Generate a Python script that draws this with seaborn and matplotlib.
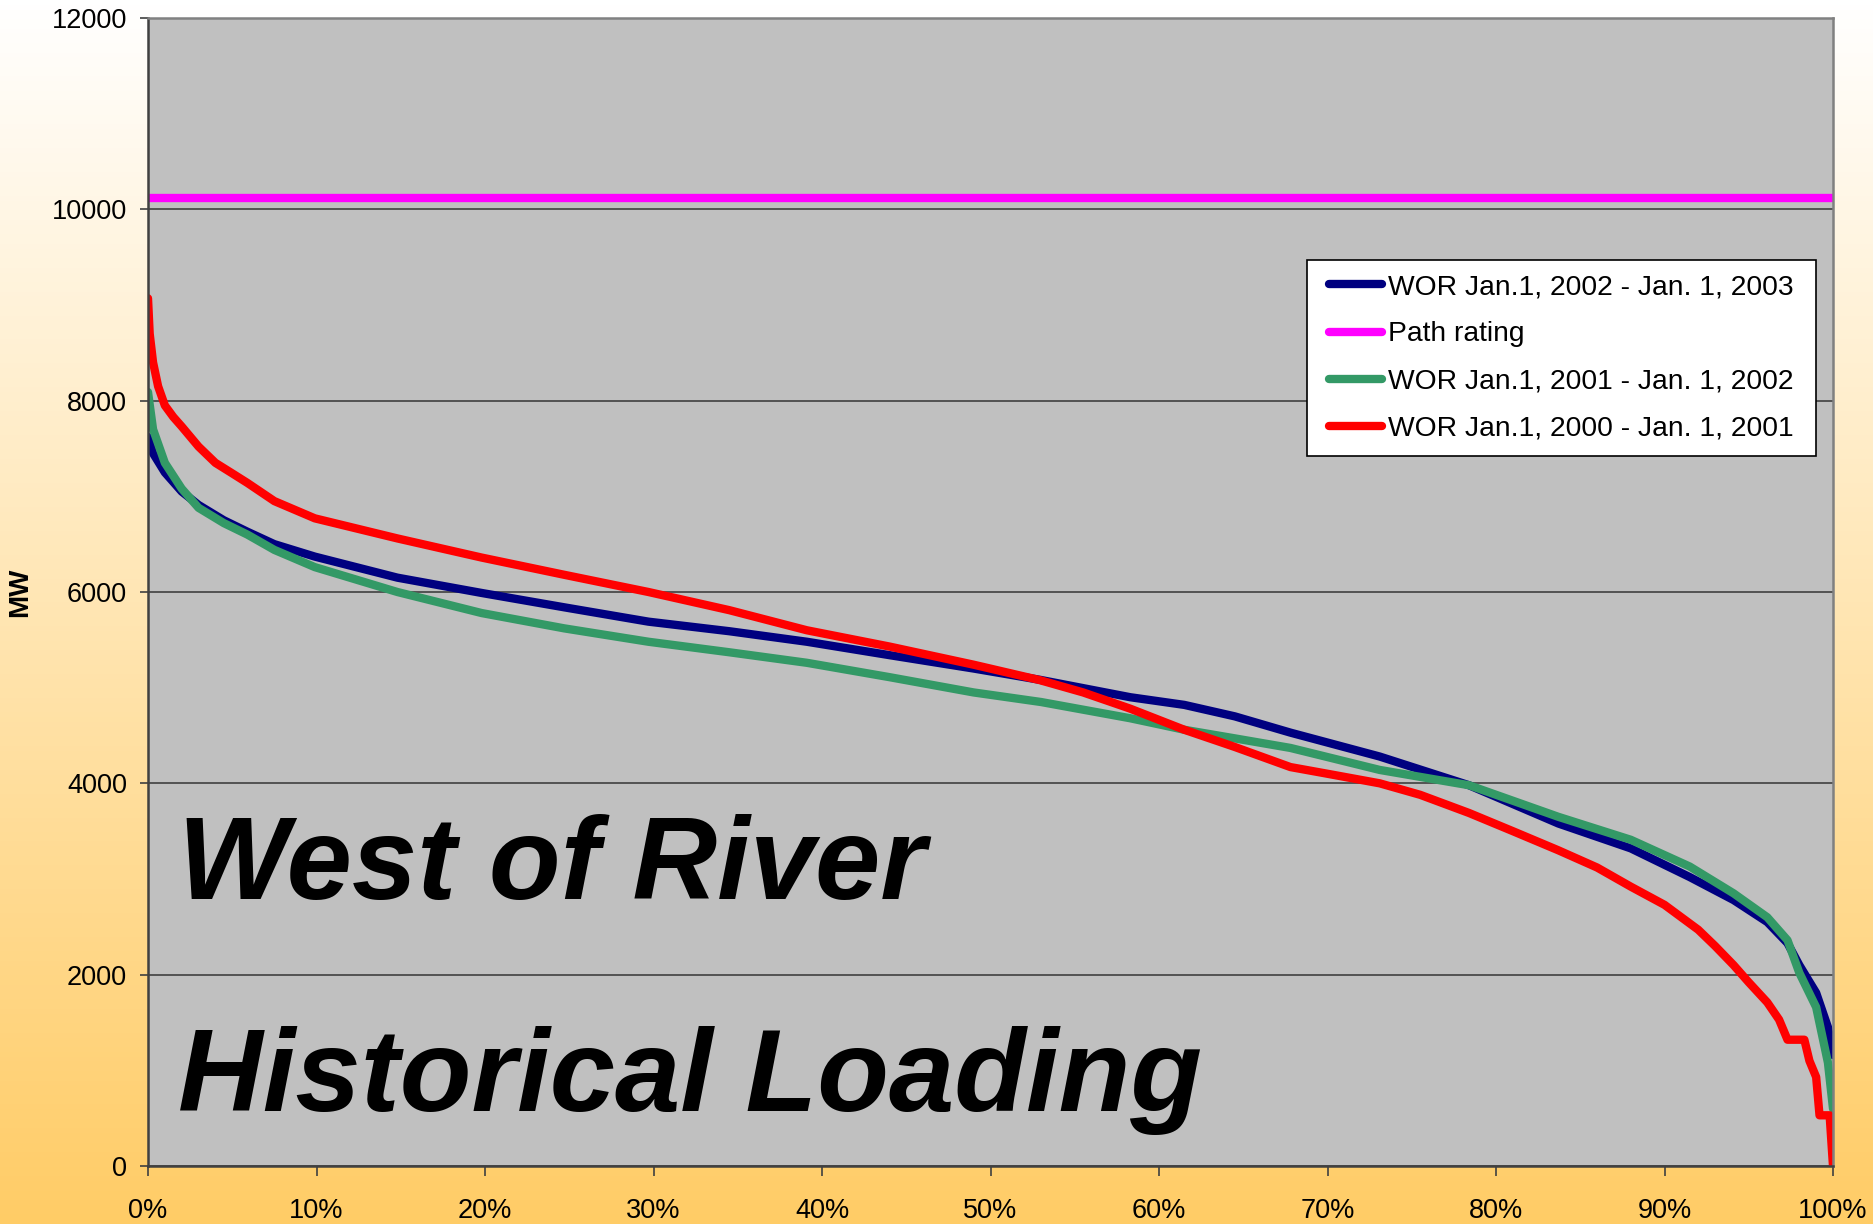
import numpy as np
import pandas as pd
import matplotlib
matplotlib.use("Agg")
import matplotlib.pyplot as plt
from matplotlib.ticker import PercentFormatter, MultipleLocator
import seaborn as sns

# Duration curves: percent of hours vs MW
pct_2002 = [0, 0.3, 1, 2, 3, 4.5, 5.9, 7.5, 9.9, 14.8, 19.8, 24.7, 29.7, 34.5, 39.1, 44, 49, 53,
            58.3, 61.5, 64.5, 67.8, 73.1, 78.4, 83.7, 88, 91.5, 94.1, 96.1, 97.3, 98, 99, 99.7, 100]
mw_2002 = [7620, 7450, 7250, 7050, 6910, 6750, 6630, 6500, 6370, 6150, 5990, 5840, 5690, 5590, 5480,
           5340, 5200, 5080, 4900, 4820, 4700, 4530, 4280, 3980, 3580, 3320, 3020, 2780, 2550, 2330,
           2100, 1810, 1450, 1160]

pct_2001 = [0, 0.3, 1, 2, 3, 4.5, 5.9, 7.5, 9.9, 14.8, 19.8, 24.7, 29.7, 34.5, 39.1, 44, 49, 53,
            58.3, 61.5, 64.5, 67.8, 73.1, 78.4, 83.7, 88, 91.5, 94.1, 96.1, 97.3, 98, 99, 99.7, 100]
mw_2001 = [8090, 7700, 7350, 7080, 6880, 6720, 6600, 6440, 6260, 6000, 5780, 5620, 5480, 5370, 5260,
           5110, 4950, 4850, 4680, 4560, 4470, 4370, 4140, 3980, 3650, 3410, 3130, 2850, 2600, 2360,
           2020, 1660, 1080, 600]

pct_2000 = [0, 0.1, 0.3, 0.6, 1, 1.5, 2, 3, 4, 5, 5.9, 7.5, 9.9, 12, 14.8, 19.8, 24.7, 29.7, 34.5,
            39.1, 44, 49, 52.9, 55.5, 58.3, 61.5, 64.5, 67.8, 70, 73.1, 75.5, 78.4, 81, 83.7, 86, 88,
            90, 92, 93, 94.1, 95, 96.1, 96.8, 97.3, 98.3, 98.6, 99.0, 99.2, 99.8, 100]
mw_2000 = [9070, 8700, 8400, 8150, 7950, 7830, 7730, 7520, 7350, 7240, 7140, 6950, 6770, 6680, 6560,
           6360, 6180, 6000, 5810, 5600, 5430, 5240, 5080, 4950, 4780, 4560, 4380, 4170, 4100, 4000,
           3880, 3690, 3500, 3300, 3120, 2920, 2730, 2470, 2300, 2100, 1920, 1710, 1530, 1320, 1320,
           1100, 930, 530, 530, 0]

pct_rating = [0, 100]
mw_rating = [10120, 10120]

labels = ["WOR Jan.1, 2002 - Jan. 1, 2003", "Path rating",
          "WOR Jan.1, 2001 - Jan. 1, 2002", "WOR Jan.1, 2000 - Jan. 1, 2001"]
colors = ["#000080", "#FF00FF", "#339966", "#FF0000"]

df = pd.concat([
    pd.DataFrame({"pct": pct_2002, "MW": mw_2002, "series": labels[0]}),
    pd.DataFrame({"pct": pct_rating, "MW": mw_rating, "series": labels[1]}),
    pd.DataFrame({"pct": pct_2001, "MW": mw_2001, "series": labels[2]}),
    pd.DataFrame({"pct": pct_2000, "MW": mw_2000, "series": labels[3]}),
], ignore_index=True)

sns.set_theme(style="white")
plt.rcParams["font.family"] = ["Liberation Sans", "DejaVu Sans"]
plt.rcParams["text.color"] = "black"
plt.rcParams["xtick.color"] = "black"
plt.rcParams["ytick.color"] = "black"
plt.rcParams["axes.labelcolor"] = "black"

W, H = 1873, 1224
fig = plt.figure(figsize=(W / 100, H / 100), dpi=100)

# gradient background, white at top to orange at bottom
bg = fig.add_axes([0, 0, 1, 1], zorder=-10)
top = np.array([1.0, 1.0, 1.0])
bot = np.array([1.0, 0.80, 0.40])
t = np.linspace(0, 1, 256)[:, None]
grad = top + (bot - top) * t
bg.imshow(grad[:, None, :].repeat(2, axis=1), aspect="auto", extent=[0, 1, 0, 1])
bg.set_axis_off()

ax = fig.add_axes([148 / W, 58 / H, 1685 / W, 1148 / H])
ax.set_facecolor("#C0C0C0")

sns.lineplot(data=df, x="pct", y="MW", hue="series", hue_order=labels, palette=colors,
             estimator=None, sort=False, linewidth=6, ax=ax)

ax.set_xlim(0, 100)
ax.set_ylim(0, 12000)
ax.xaxis.set_major_locator(MultipleLocator(10))
ax.xaxis.set_major_formatter(PercentFormatter(xmax=100, decimals=0))
ax.yaxis.set_major_locator(MultipleLocator(2000))
ax.grid(axis="y", color="#404040", linewidth=1.2)
ax.grid(axis="x", visible=False)
ax.set_axisbelow(True)
ax.set_xlabel("")
ax.set_ylabel("")

for s in ["left", "bottom"]:
    ax.spines[s].set_color("#404040")
    ax.spines[s].set_linewidth(1.8)
for s in ["top", "right"]:
    ax.spines[s].set_color("#808080")
    ax.spines[s].set_linewidth(1.8)

ax.tick_params(axis="x", direction="out", length=7, width=1.2, color="#404040",
               labelsize=19.5, pad=16, bottom=True)
ax.tick_params(axis="y", direction="out", length=6, width=1.2, color="#404040",
               labelsize=19.5, pad=9, left=True)

fig.text(20 / W, 1 - 592 / H, "MW", rotation=90, ha="center", va="center",
         fontsize=20, fontweight="bold")

ax.text(0.018, 0.2326, "West of River", transform=ax.transAxes, fontsize=84.5,
        fontweight="bold", fontstyle="italic", va="baseline", ha="left")
ax.text(0.018, 0.0479, "Historical Loading", transform=ax.transAxes, fontsize=84.5,
        fontweight="bold", fontstyle="italic", va="baseline", ha="left")

leg = ax.legend(loc="upper right", bbox_to_anchor=(0.985, 0.789), borderaxespad=0,
                fontsize=20.3, frameon=True, fancybox=False, framealpha=1,
                handlelength=1.9, handletextpad=0.2, labelspacing=0.75, borderpad=0.5,
                title=None)
frame = leg.get_frame()
frame.set_edgecolor("black")
frame.set_facecolor("white")
frame.set_linewidth(1.2)
# extra horizontal padding only
frame.set_boxstyle("square", pad=0.28)
frame.set_mutation_aspect(0.001)
for h in leg.get_lines():
    h.set_linewidth(6)
    h.set_solid_capstyle("round")

fig.savefig("out.png", dpi=100)
